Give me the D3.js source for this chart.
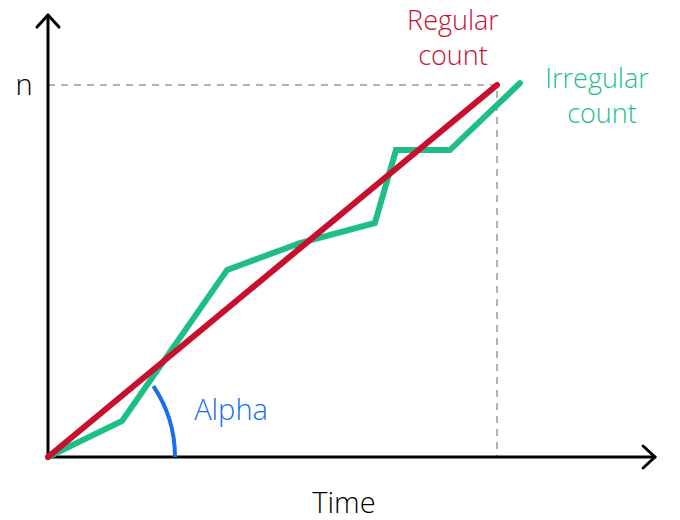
<!DOCTYPE html>
<html>
<head>
<meta charset="utf-8">
<script src="https://cdn.jsdelivr.net/npm/d3@7"></script>
<style>
  html, body { margin: 0; padding: 0; background: #fff; }
  svg { display: block; font-family: "Open Sans", "Noto Sans", sans-serif; font-weight: 300; }
</style>
</head>
<body>
<svg width="680" height="520"></svg>
<script>
  // values, in (time, count) units where n = 10
  const regularTime = [0, 10]
  const regularCount = [0, 10]
  const irregularTime = [0, 1.65, 3.99, 5.61, 7.28, 7.75, 8.95, 10.51]
  const irregularCount = [0, 0.97, 5.03, 5.75, 6.29, 8.25, 8.25, 10.05]
  const nValue = 10
  const axisMax = { time: 13.52, count: 11.88 }

  const svg = d3.select('svg')
  const x = d3.scaleLinear().domain([0, 10]).range([48, 497])
  const y = d3.scaleLinear().domain([0, 10]).range([457, 85])

  const line = d3.line().
    x(d => x(d[0])).
    y(d => y(d[1]))

  // dashed guides to n
  svg.append('path').
    attr('d', line([[0, nValue], [10, nValue], [10, 0]])).
    attr('fill', 'none').
    attr('stroke', '#999').
    attr('stroke-width', 1.5).
    attr('stroke-dasharray', '7,6')

  // axes with arrow heads
  const axisG = svg.append('g').
    attr('fill', 'none').
    attr('stroke', '#000').
    attr('stroke-width', 3).
    attr('stroke-linecap', 'round').
    attr('stroke-linejoin', 'round')

  axisG.append('path').attr('d', line([[0, axisMax.count], [0, 0], [axisMax.time, 0]]))
  const xe = x(axisMax.time), ye = y(axisMax.count)
  axisG.append('path').attr('d', `M${xe - 12},${y(0) - 11}L${xe},${y(0)}L${xe - 12},${y(0) + 11}`)
  axisG.append('path').attr('d', `M${x(0) - 11},${ye + 12}L${x(0)},${ye}L${x(0) + 11},${ye + 12}`)

  // alpha arc
  const angle = Math.atan2(y(0) - y(regularCount[1]), x(regularTime[1]) - x(0))
  const r = 127
  const arc = d3.arc().innerRadius(r).outerRadius(r).
    startAngle(Math.PI / 2 - angle + 0.1).endAngle(Math.PI / 2)
  svg.append('path').
    attr('transform', `translate(${x(0)},${y(0)})`).
    attr('d', arc()).
    attr('fill', 'none').
    attr('stroke', '#1a6cf0').
    attr('stroke-width', 4)

  svg.append('path').
    attr('d', line(d3.zip(irregularTime, irregularCount))).
    attr('fill', 'none').
    attr('stroke', '#1dbf86').
    attr('stroke-width', 6).
    attr('stroke-linecap', 'round').
    attr('stroke-linejoin', 'miter')

  svg.append('path').
    attr('d', line(d3.zip(regularTime, regularCount))).
    attr('fill', 'none').
    attr('stroke', '#c8102e').
    attr('stroke-width', 6).
    attr('stroke-linecap', 'round')

  // labels
  const label = (tx, ty, str, color, size) => svg.append('text').
    attr('x', tx).attr('y', ty).
    attr('text-anchor', 'middle').
    attr('font-size', size || 29).
    attr('fill', color).
    text(str)

  label(24, y(nValue) + 10, 'n', '#000')
  label(453, 30, 'Regular', '#c8102e', 27)
  label(453, 65, 'count', '#c8102e', 27)
  label(597, 88, 'Irregular', '#1dbf86', 27)
  label(602, 123, 'count', '#1dbf86', 27)
  label(231, 420, 'Alpha', '#1a6cf0')
  label(344, 513, 'Time', '#000')
</script>
</body>
</html>
